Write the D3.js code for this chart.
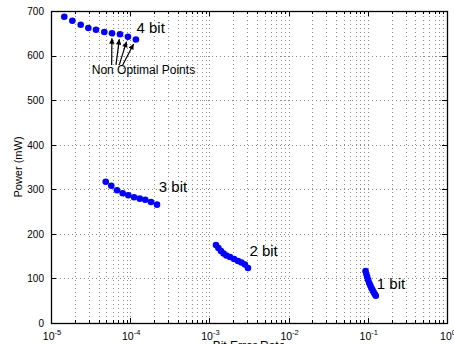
<!DOCTYPE html>
<html><head><meta charset="utf-8">
<script src="https://cdn.jsdelivr.net/npm/d3@7"></script>
<style>
html,body{margin:0;padding:0;background:#fff;}
svg{display:block;font-family:"Liberation Sans",Arial,Helvetica,sans-serif;}
</style></head>
<body>
<svg id="chart" width="454" height="344"></svg>
<script>
// ---- data ----
const ber4 = [1.47e-5,1.86e-5,2.37e-5,2.96e-5,3.70e-5,4.71e-5,5.89e-5,7.43e-5,9.37e-5,1.18e-4];
const pow4 = [687,678,669,662,658,653,650,648,642,636];
const ber3 = [4.91e-5,5.77e-5,6.81e-5,8.04e-5,9.46e-5,1.12e-4,1.32e-4,1.55e-4,1.83e-4,2.18e-4];
const pow3 = [317,308,298,291,286.5,282,279,276.5,271.5,265.5];
const ber2 = [1.21e-3,1.30e-3,1.40e-3,1.51e-3,1.64e-3,1.82e-3,2.05e-3,2.30e-3,2.54e-3,2.81e-3,3.07e-3];
const pow2 = [175,168.3,161.5,156,151.4,148,143.6,139,135.7,131.3,123.4];
const ber1 = [0.0936,0.0958,0.0982,0.1011,0.1042,0.1076,0.1110,0.1146,0.1183,0.1222,0.1262];
const pow1 = [116.7,110,103.2,96.5,89.7,84.1,78.5,74,69.6,65,61];
const seriesNames = ["4 bit","3 bit","2 bit","1 bit"];
const labelBer = [1.2e-4, 2.3e-4, 3.2e-3, 0.13];
const labelPow = [651, 293, 150, 76];
const xTickExps = [-5,-4,-3,-2,-1,0];
const yTicks = [0,100,200,300,400,500,600,700];
const annoText = "Non Optimal Points";
const annoBer = 3.27e-5, annoPow = 559;
const arrowTailBer = [5.83e-5,6.62e-5,7.28e-5,8.04e-5];
const arrowTailPow = 579;
const arrowTargets = [6,7,8,9]; // indices into 4-bit series
const xLabel = "Bit Error Rate", yLabel = "Power (mW)";

// ---- layout ----
const L = 51, R = 447, T = 11, B = 323;
const svg = d3.select("#chart");
const x = d3.scaleLog().domain([1e-5, 1]).range([L, R]);
const y = d3.scaleLinear().domain([0, 700]).range([B, T]);

// minor tick values
const minor = [];
for (let e = -5; e < 0; e++) for (let j = 2; j <= 9; j++) minor.push(j * Math.pow(10, e));
const major = xTickExps.map(e => Math.pow(10, e));

// grid
const grid = svg.append("g").attr("stroke", "#8c8c8c").attr("stroke-width", 1).attr("stroke-dasharray", "1,3");
major.concat(minor).filter(v => v > 1e-5 && v < 1).forEach(v => {
  const px = Math.round(x(v)) + 0.5;
  grid.append("line").attr("x1", px).attr("x2", px).attr("y1", T + 1).attr("y2", B);
});
yTicks.filter(v => v > 0 && v < 700).forEach(v => {
  const py = Math.round(y(v)) + 0.5;
  grid.append("line").attr("x1", L + 1).attr("x2", R).attr("y1", py).attr("y2", py);
});

// ticks
const tk = svg.append("g").attr("stroke", "#000").attr("stroke-width", 1);
major.forEach(v => {
  const px = Math.round(x(v)) + 0.5;
  tk.append("line").attr("x1", px).attr("x2", px).attr("y1", B).attr("y2", B - 5);
  tk.append("line").attr("x1", px).attr("x2", px).attr("y1", T).attr("y2", T + 5);
});
minor.forEach(v => {
  const px = Math.round(x(v)) + 0.5;
  tk.append("line").attr("x1", px).attr("x2", px).attr("y1", B).attr("y2", B - 3);
  tk.append("line").attr("x1", px).attr("x2", px).attr("y1", T).attr("y2", T + 3);
});
yTicks.forEach(v => {
  const py = Math.round(y(v)) + 0.5;
  tk.append("line").attr("x1", L).attr("x2", L + 5).attr("y1", py).attr("y2", py);
  tk.append("line").attr("x1", R).attr("x2", R - 5).attr("y1", py).attr("y2", py);
});

// frame
svg.append("rect").attr("x", L + 0.5).attr("y", T + 0.5).attr("width", R - L).attr("height", B - T)
  .attr("fill", "none").attr("stroke", "#000").attr("stroke-width", 1.3);

// y tick labels
svg.append("g").selectAll("text").data(yTicks).join("text")
  .attr("x", L - 7).attr("y", d => y(d) + 3.8).attr("text-anchor", "end")
  .attr("font-size", 10).text(d => d);

// x tick labels
const xl = svg.append("g");
xTickExps.forEach(e => {
  const t = xl.append("text").attr("x", x(Math.pow(10, e)) + 1).attr("y", 339.5)
    .attr("text-anchor", "middle").attr("font-size", 10.5);
  t.append("tspan").text("10");
  t.append("tspan").attr("dy", -5).attr("font-size", 7.5).text(e);
});

// axis labels
svg.append("text").attr("x", (L + R) / 2).attr("y", 350).attr("text-anchor", "middle")
  .attr("font-size", 12).text(xLabel);
svg.append("text").attr("transform", `translate(22,${(T + B) / 2}) rotate(-90)`)
  .attr("text-anchor", "middle").attr("font-size", 11).text(yLabel);

// points
const series = [[ber4, pow4], [ber3, pow3], [ber2, pow2], [ber1, pow1]];
series.forEach(([bx, py]) => {
  svg.append("g").selectAll("circle").data(bx.map((b, i) => [b, py[i]])).join("circle")
    .attr("cx", d => x(d[0])).attr("cy", d => y(d[1])).attr("r", 3.3).attr("fill", "#0000ff");
});

// series labels
svg.append("g").selectAll("text").data(seriesNames).join("text")
  .attr("x", (d, i) => x(labelBer[i])).attr("y", (d, i) => y(labelPow[i]))
  .attr("font-size", 15).text(d => d);

// arrows
const defs = svg.append("defs");
defs.append("marker").attr("id", "ah").attr("viewBox", "0 0 10 10").attr("refX", 10).attr("refY", 5)
  .attr("markerWidth", 8).attr("markerHeight", 5.5).attr("markerUnits", "userSpaceOnUse")
  .attr("orient", "auto").append("path").attr("d", "M0,0 L10,5 L0,10 Z").attr("fill", "#000");
arrowTargets.forEach((idx, k) => {
  const x1 = x(arrowTailBer[k]), y1 = y(arrowTailPow);
  const tx = x(ber4[idx]), ty = y(pow4[idx]);
  const dx = tx - x1, dy = ty - y1, len = Math.hypot(dx, dy);
  const stop = len - 5;
  svg.append("line").attr("x1", x1).attr("y1", y1)
    .attr("x2", x1 + dx * stop / len).attr("y2", y1 + dy * stop / len)
    .attr("stroke", "#000").attr("stroke-width", 1.2).attr("marker-end", "url(#ah)");
});
svg.append("text").attr("x", x(annoBer)).attr("y", y(annoPow)).attr("font-size", 12).text(annoText);
</script>
</body></html>
